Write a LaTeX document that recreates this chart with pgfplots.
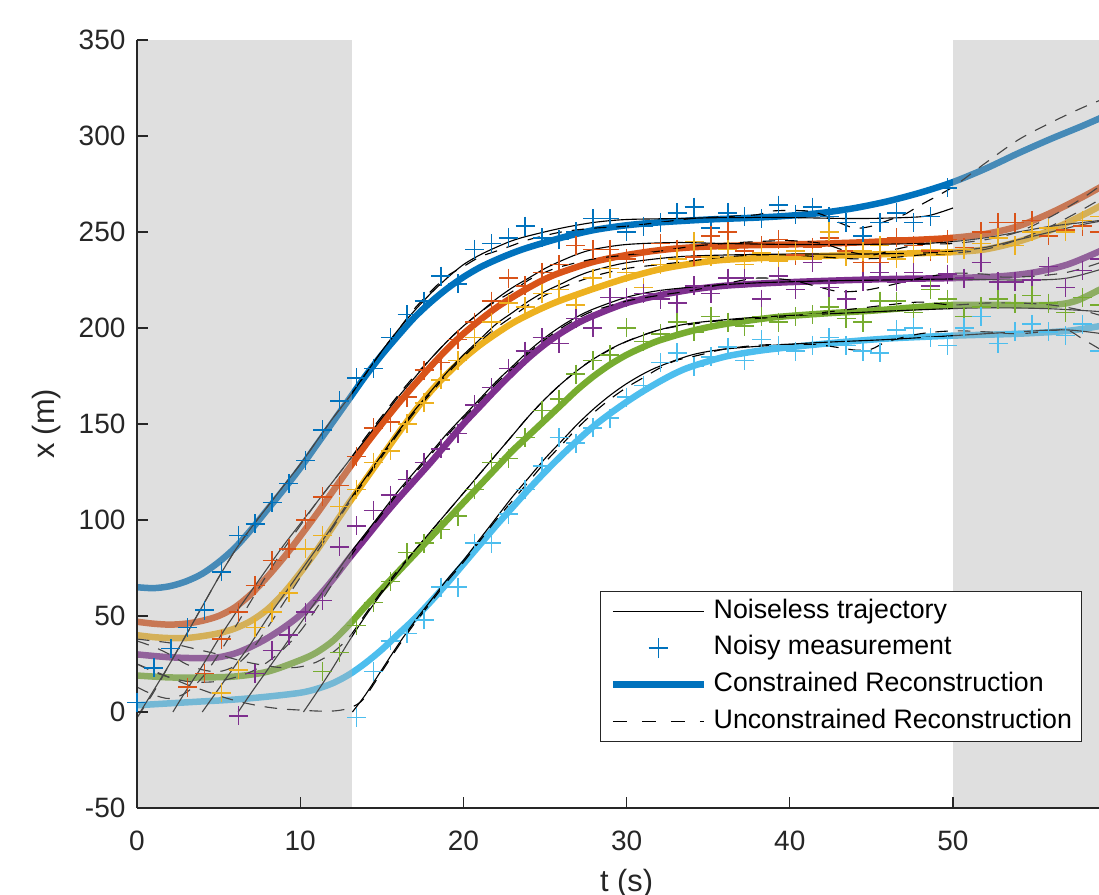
\documentclass[border=0pt]{standalone}
\usepackage{fontspec}
\setmainfont{Liberation Sans}
\usepackage{pgfplots}
\pgfplotsset{compat=1.18}
\definecolor{c1}{rgb}{0,0.447,0.741}
\definecolor{c2}{rgb}{0.850,0.325,0.098}
\definecolor{c3}{rgb}{0.929,0.694,0.125}
\definecolor{c4}{rgb}{0.494,0.184,0.556}
\definecolor{c5}{rgb}{0.466,0.674,0.188}
\definecolor{c6}{rgb}{0.301,0.745,0.933}
\definecolor{axcol}{rgb}{0.15,0.15,0.15}
\pgfplotsset{
  cons/.style={line width=2.6pt, smooth, forget plot},
  truth/.style={black, line width=0.45pt, smooth, forget plot},
  uncons/.style={black, line width=0.45pt, dash pattern=on 5pt off 4pt, smooth, forget plot},
  meas/.style={only marks, mark=+, mark size=3.8pt, mark options={line width=0.6pt}, forget plot},
  legline/.style={legend image code/.code={\draw[##1] (0pt,0pt) -- (36.3pt,0pt);}},
  legcross/.style={legend image code/.code={\path[draw=none] (0pt,0pt) -- (36.3pt,0pt); \draw[c1, line width=0.55pt] (14.3pt,0pt) -- (22pt,0pt) (18.15pt,-3.85pt) -- (18.15pt,3.85pt);}},
}
\begin{document}
\begin{tikzpicture}
\begin{axis}[
  scale only axis, width=391.68pt, height=307.2pt,
  xmin=0, xmax=60, ymin=-50, ymax=350,
  clip=false,
  axis on top,
  axis x line*=bottom, axis y line*=left,
  axis line style={color=axcol, line width=0.55pt},
  xtick={0,10,...,50}, ytick={-50,0,...,350},
  tick align=inside, major tick length=4.4pt,
  tick style={color=axcol, line width=0.55pt},
  /pgf/number format/assume math mode=true,
  ticklabel style={font=\fontsize{11.2}{13.4}\selectfont, color=axcol},
  xticklabel style={yshift=-5.5pt},
  yticklabel style={xshift=-1.1pt},
  xlabel={t (s)}, ylabel={x (m)},
  label style={font=\fontsize{12.3}{14.5}\selectfont, color=axcol},
  x label style={at={(axis description cs:0.5,0)}, anchor=north, yshift=-20.8pt},
  y label style={at={(axis description cs:-0.092,0.5)}, anchor=center},
  legend cell align=left,
  legend style={at={(0.965,0.086)}, anchor=south east, draw=axcol, line width=0.5pt, fill=white,
    font=\fontsize{10.7}{12.8}\selectfont, inner xsep=3.7pt, inner ysep=2.7pt,
    row sep=4.2pt, nodes={inner sep=0pt, text height=8pt, text depth=2.5pt},
    /tikz/every odd column/.append style={column sep=2.7pt}},
]
% ---------------- constrained reconstructions
\addplot[cons, c1] coordinates {(0,65) (1,64.5) (2,65.5) (3,68) (4,72) (5,78) (6,85.5) (7,95) (8,105.5) (9,116) (10,127) (11,139) (12,151) (13,163) (14,175) (15,186) (16,196) (17,205.5) (18,213.5) (19,220.5) (20,226.5) (21,231.5) (22,235.5) (23,239) (24,242) (26,247) (28,251) (30,253.5) (32,255) (35,256.5) (38,257.5) (40,258.5) (42,260) (44,262.5) (46,266) (48,270.5) (50,276) (52,283) (54,291) (56,298.5) (58,305.5) (60,313)};
\addplot[cons, c2] coordinates {(0,47) (1,46) (2,45.5) (3,46) (4,47.5) (5,50) (6,54.5) (7,61.5) (8,70.5) (9,80.5) (10,91.5) (11,103) (12,115) (13,127) (14,139) (15,150) (16,160.5) (17,170.5) (18,180) (19,189) (20,197) (21,204) (22,210.5) (23,216) (24,221) (25,225.5) (26,229) (28,234.5) (30,238) (32,240.5) (34,242) (37,243) (40,243.5) (44,244.5) (48,246) (50,247) (52,249) (54,253) (56,260) (58,268.5) (60,278)};
\addplot[cons, c3] coordinates {(0,40) (1,39) (2,38.5) (3,38.5) (4,39.5) (5,41) (6,43.5) (7,47.5) (8,53.5) (9,62) (10,72.5) (11,84) (12,96.5) (13,109) (14,121) (15,133) (16,145) (17,156.5) (18,167) (19,176) (20,184) (21,191) (22,197) (23,202.5) (24,207) (25,211) (26,214.5) (28,220.5) (30,226) (32,230.5) (34,233.5) (36,235.5) (40,237) (44,238) (48,239) (50,239.5) (52,241) (54,245) (56,251) (58,259) (60,268)};
\addplot[cons, c4] coordinates {(0,30) (2,28.5) (4,28) (5,28.5) (6,30.5) (7,34) (8,38.5) (9,44) (10,50.5) (11,59) (12,69) (13,80) (14,90.5) (15,101) (16,111) (17,120.5) (18,130) (19,140) (20,150) (21,159) (22,168) (23,176.5) (24,184.5) (25,191.5) (26,197.5) (27,202.5) (28,206.5) (30,213) (32,217) (34,220) (36,222) (39,223.5) (42,224.5) (46,225.5) (50,226) (53,227) (55,229) (57,233) (59,240) (60,244)};
\addplot[cons, c5] coordinates {(0,19) (2,18) (4,18) (6,18.5) (8,21) (10,27) (11,31) (12,37) (13,45.5) (14,55) (15,64) (16,73) (17,82) (18,91) (19,100) (20,109) (21,118) (22,127) (23,136) (24,144) (25,152) (26,160) (27,168) (28,175) (29,181) (30,186) (31,190) (32,193.5) (34,198.5) (36,202) (39,205.5) (42,207.5) (45,209) (48,211) (50,212) (53,212) (56,212) (57.5,214) (59,220) (60,224)};
\addplot[cons, c6] coordinates {(0,3.5) (2,4.5) (4,5.5) (6,6.5) (8,8) (10,10) (11,12) (12,15) (13,19.5) (14,25.5) (15,32.5) (16,40.5) (17,48.5) (18,57.5) (19,67) (20,77) (21,87) (22,97) (23,106.5) (24,116) (25,125) (26,133.5) (27,141.5) (28,149) (29,155.5) (30,161.5) (31,167) (32,172) (33,176.5) (34,180) (36,185) (38,188) (40,190) (43,192.5) (46,194.5) (50,196) (54,197) (57,198.5) (59,201) (60,203)};
% ---------------- noiseless trajectories
\addplot[truth] coordinates {(0.2,0) (1,11) (2,25) (3,40) (4,55) (5,70) (6,84) (7,96) (8,107) (9,118) (10,129) (11,141) (12,153) (13,164) (14,176) (15,188) (16,199) (17,209) (18,218) (19,226) (20,233) (21,238) (22,242) (23,245.5) (24,248) (26,252) (28,255) (30,256.5) (33,257) (36,257.5) (40,257.5) (44,257) (47,257.5) (48.5,258.5) (50,262.5)};
\addplot[truth] coordinates {(2.2,0) (3,11) (4,24) (5,38) (6,51) (7,63) (8,75) (9,87) (10,98) (11,109) (12,120) (13,131) (14,142) (15,153) (16,164) (17,174) (18,184) (19,193) (20,201) (21,208) (22,215) (23,221) (24,226) (25,231) (26,235) (27,238.5) (28,241) (30,243.5) (33,244.5) (36,244) (40,243.5) (44,243.5) (48,244) (50,245) (52,247) (54,250) (56,253) (58,255) (60,257)};
\addplot[truth] coordinates {(4,0) (5,12) (6,24) (7,36) (8,49) (9,61) (10,73) (11,85) (12,97) (13,110) (14,122) (15,134) (16,146) (17,157) (18,167) (19,177) (20,186) (21,194) (22,202) (23,208) (24,214) (25,219) (26,223) (27,227) (28,230) (30,234) (33,237) (36,238) (40,238.5) (44,238.5) (48,239) (50,240) (52,242) (54,246) (56,250) (58,254) (60,257)};
\addplot[truth] coordinates {(6.2,0) (7,10) (8,22) (9,34) (10,46) (11,58) (12,70) (13,82) (14,93) (15,104) (16,115) (17,125) (18,135) (19,145) (20,154) (21,163) (22,172) (23,180) (24,188) (25,195) (26,201) (27,206) (28,210) (30,216) (32,219.5) (35,222) (38,223.5) (42,224.5) (46,225) (50,225.5) (54,225) (57,226) (60,233)};
\addplot[truth] coordinates {(10.2,0) (11,10) (12,23) (13,37) (14,50) (15,62) (16,73) (17,84) (18,94) (19,104) (20,114) (21,124) (22,134) (23,144) (24,154) (25,163) (26,171) (27,178) (28,184) (29,189) (30,193) (32,199) (34,202.5) (37,205) (40,206.5) (44,208) (48,209.5) (52,210.5) (56,210) (60,208)};
\addplot[truth] coordinates {(13.2,0) (14,9) (15,22) (16,35) (17,47) (18,58) (19,69) (20,79) (21,90) (22,101) (23,112) (24,122) (25,132) (26,141) (27,150) (28,158) (29,165) (30,171) (31,176) (32,180) (34,186) (36,189) (39,191) (42,192.5) (46,194) (50,196) (54,198) (57,199) (60,196)};
% ---------------- noisy measurements
\addplot[meas, c1] coordinates {(0,5) (1.03,23) (2.07,33) (3.10,44) (4.14,53) (5.17,73) (6.21,92) (7.24,98) (8.28,109) (9.31,119) (10.34,131) (11.38,147) (12.41,162) (13.45,174) (14.48,179) (15.52,195) (16.55,207) (17.59,214) (18.62,227) (19.66,223) (20.69,241) (21.72,244) (22.76,247) (23.79,253) (24.83,247) (25.86,246) (26.90,250) (27.93,257) (28.97,257) (30.00,250) (31.03,253) (32.07,255) (33.10,260) (34.14,263) (35.17,252) (36.21,260) (37.24,258) (38.28,257) (39.31,264) (40.34,259) (41.38,263) (42.41,258) (43.45,255) (44.48,248) (45.52,255) (46.55,260) (47.59,255) (48.62,258) (49.66,273)};
\addplot[meas, c2] coordinates {(3.10,13) (4.14,20) (5.17,38) (6.21,52) (7.24,66) (8.28,79) (9.31,85) (10.34,100) (11.38,112) (12.41,118) (13.45,133) (14.48,148) (15.52,151) (16.55,164) (17.59,178) (18.62,182) (19.66,194) (20.69,203) (21.72,214) (22.76,226) (23.79,222) (24.83,229) (25.86,233) (26.90,243) (27.93,241) (28.97,241) (30.00,236) (31.03,239) (32.07,244) (33.10,241) (34.14,237) (35.17,248) (36.21,250) (37.24,240) (38.28,243) (39.31,246) (40.34,238) (41.38,242) (42.41,247) (43.45,240) (44.48,234) (45.52,234) (46.55,247) (47.59,243) (48.62,240) (49.66,246) (50.69,242) (51.72,250) (52.76,255) (53.79,255) (54.83,256) (55.86,248) (56.90,251) (57.93,253) (58.97,250)};
\addplot[meas, c3] coordinates {(5.17,10) (6.21,22) (7.24,44) (8.28,52) (9.31,62) (10.34,85) (11.38,92) (12.41,107) (13.45,116) (14.48,130) (15.52,136) (16.55,150) (17.59,161) (18.62,173) (19.66,183) (20.69,195) (21.72,203) (22.76,213) (23.79,211) (24.83,218) (25.86,220) (26.90,212) (27.93,226) (28.97,231) (30.00,229) (31.03,221) (32.07,233) (33.10,236) (34.14,245) (35.17,237) (36.21,241) (37.24,233) (38.28,239) (39.31,235) (40.34,240) (41.38,236) (42.41,250) (43.45,237) (44.48,240) (45.52,243) (46.55,236) (47.59,239) (48.62,241) (49.66,239) (50.69,241) (51.72,244) (52.76,247) (53.79,243) (54.83,250) (55.86,252) (56.90,250) (57.93,256) (58.97,258)};
\addplot[meas, c4] coordinates {(6.21,-2) (7.24,20) (8.28,32) (9.31,40) (10.34,52) (11.38,58) (12.41,86) (13.45,97) (14.48,105) (15.52,113) (16.55,121) (17.59,130) (18.62,137) (19.66,145) (20.69,160) (21.72,169) (22.76,179) (23.79,188) (24.83,195) (25.86,192) (26.90,205) (27.93,200) (28.97,216) (30.00,216) (31.03,218) (32.07,215) (33.10,213) (34.14,222) (35.17,218) (36.21,226) (37.24,226) (38.28,215) (39.31,227) (40.34,220) (41.38,234) (42.41,221) (43.45,215) (44.48,224) (45.52,229) (46.55,224) (47.59,229) (48.62,222) (49.66,228) (50.69,226) (51.72,234) (52.76,224) (53.79,224) (54.83,225) (55.86,232) (56.90,221) (57.93,230) (58.97,236)};
\addplot[meas, c5] coordinates {(11.38,21) (12.41,31) (13.45,45) (14.48,57) (15.52,68) (16.55,83) (17.59,88) (18.62,95) (19.66,102) (20.69,116) (21.72,130) (22.76,132) (23.79,143) (24.83,157) (25.86,163) (26.90,176) (27.93,183) (28.97,186) (30.00,200) (31.03,193) (32.07,197) (33.10,203) (34.14,198) (35.17,206) (36.21,203) (37.24,201) (38.28,206) (39.31,203) (40.34,206) (41.38,207) (42.41,211) (43.45,205) (44.48,203) (45.52,214) (46.55,214) (47.59,208) (48.62,220) (49.66,215) (50.69,206) (51.72,211) (52.76,215) (53.79,213) (54.83,217) (55.86,213) (56.90,208) (57.93,216) (58.97,212)};
\addplot[meas, c6] coordinates {(13.45,-3) (14.48,21) (15.52,37) (16.55,41) (17.59,48) (18.62,65) (19.66,65) (20.69,88) (21.72,88) (22.76,103) (23.79,116) (24.83,128) (25.86,143) (26.90,140) (27.93,148) (28.97,153) (30.00,164) (31.03,170) (32.07,182) (33.10,187) (34.14,180) (35.17,185) (36.21,190) (37.24,183) (38.28,194) (39.31,191) (40.34,188) (41.38,191) (42.41,195) (43.45,191) (44.48,188) (45.52,187) (46.55,199) (47.59,200) (48.62,195) (49.66,191) (50.69,200) (51.72,206) (52.76,192) (53.79,198) (54.83,202) (55.86,198) (56.90,196) (57.93,202) (58.97,188)};
% ---------------- unconstrained reconstructions
\addplot[uncons] coordinates {(0,-3) (1,10) (2,25) (3,40) (4,55) (5,70) (6,84) (7,96) (8,107) (9,118) (10,129) (11,141) (12,153) (13,164) (14,176) (15,188) (16,199) (17,210) (18,219) (19,227) (20,232) (21,237) (22,240) (23,243) (24,246) (26,250) (28,252) (30,253) (32,255) (34,257) (36,258) (38,259) (39,261) (41,261) (42,259) (43,255) (44,252) (45,253) (46,256) (47,259) (48,264) (50,273.5) (52,286) (54,298) (56,307) (58,315) (60,322)};
\addplot[uncons] coordinates {(0,13) (1,9) (2,7) (3,10) (4,18) (5,30) (6,44) (7,58) (8,72) (9,85) (10,97) (11,109) (12,120) (13,131) (14,143) (15,154) (16,165) (17,175) (18,184) (19,193) (20,201) (21,208) (22,214) (23,219) (24,225) (25,229) (26,232) (28,236) (30,238) (32,240) (34,242.5) (36,244) (38,245) (40,245.5) (42,244) (43.5,240) (45,238) (46.5,241) (48,243.5) (50,244) (52,246) (54,250) (56,258) (58,268) (60,280)};
\addplot[uncons] coordinates {(0,37) (1,34) (2,30) (3,25) (4,22) (5,21) (6,24) (7,32) (8,44) (9,57) (10,70) (11,83) (12,96) (13,109) (14,121) (15,133) (16,145) (17,156) (18,166) (19,176) (20,185) (21,193) (22,200) (23,206) (24,212) (25,217) (26,221) (28,227) (30,231) (32,233) (34,235) (36,237) (38,238) (40,238) (42,237) (44,236) (46,236.5) (48,238) (50,239) (52,241) (54,246) (56,253) (58,262) (60,272)};
\addplot[uncons] coordinates {(0,25) (1,21) (2,18) (3,16) (4,15.5) (5,16) (6,18) (7,21) (8,26) (9,33) (10,42) (11,54) (12,67) (13,80) (14,92) (15,103) (16,114) (17,124) (18,134) (19,144) (20,153) (21,162) (22,171) (23,179) (24,187) (25,194) (26,200) (27,205) (28,209) (30,214) (32,217) (34,219.5) (36,223) (38,226) (40,225) (41.5,222) (43,219) (44.5,219.5) (46,222) (48,226) (50,228.5) (52,228) (53,226.5) (55,227) (57,229) (59,234) (60,238)};
\addplot[uncons] coordinates {(0,38) (1,37) (2,36) (3,34) (4,32) (5,30) (6,27.5) (7,25.5) (8,24) (9,23) (10,23.5) (11,26) (12,31) (13,39) (14,51) (15,63) (16,74) (17,84) (18,94) (19,104) (20,114) (21,124) (22,134) (23,144) (24,154) (25,163) (26,171) (27,178) (28,184) (30,193) (32,199) (34,202) (36,204) (38,205) (40,206) (42,208) (44,210) (46,212) (48,213.5) (50,212) (52,213) (54,213) (56,212) (58,209) (60,204)};
\addplot[uncons] coordinates {(0,25) (1,21.5) (2,18) (3,14.5) (4,11.5) (5,8.5) (6,6) (7,4) (8,2.5) (9,1.5) (10,1) (11,0.5) (12,0.5) (12.8,1.5) (13.5,4) (14,8) (15,21) (16,34) (17,46) (18,57) (19,68) (20,78) (21,89) (22,100) (23,110) (24,120) (25,130) (26,139) (27,148) (28,156) (29,163) (30,169) (31,174) (32,179) (33,183) (34,185) (35,187) (36,189) (38,191) (40,191.5) (42,191) (44,188.5) (45,189) (46,193) (48,197) (50,198.5) (52,198) (54,197) (56,198.5) (57,199) (58,194) (60,184)};
% ---------------- shaded intervals
\fill[black!31, opacity=0.4] (axis cs:0,-50) rectangle (axis cs:13.2,350);
\fill[black!31, opacity=0.4] (axis cs:50,-50) rectangle (axis cs:60,350);
% ---------------- legend
\addlegendimage{black, line width=0.45pt, legline}
\addlegendentry{Noiseless trajectory}
\addlegendimage{legcross}
\addlegendentry{Noisy measurement}
\addlegendimage{c1, line width=2.6pt, legline}
\addlegendentry{Constrained Reconstruction}
\addlegendimage{black, line width=0.45pt, dash pattern=on 5.6pt off 6pt, legline}
\addlegendentry{Unconstrained Reconstruction}
\end{axis}
\pgfresetboundingbox
\path[use as bounding box] (-54.8pt,-34.8pt) rectangle (384.8pt,323.2pt);
\end{tikzpicture}
\end{document}
